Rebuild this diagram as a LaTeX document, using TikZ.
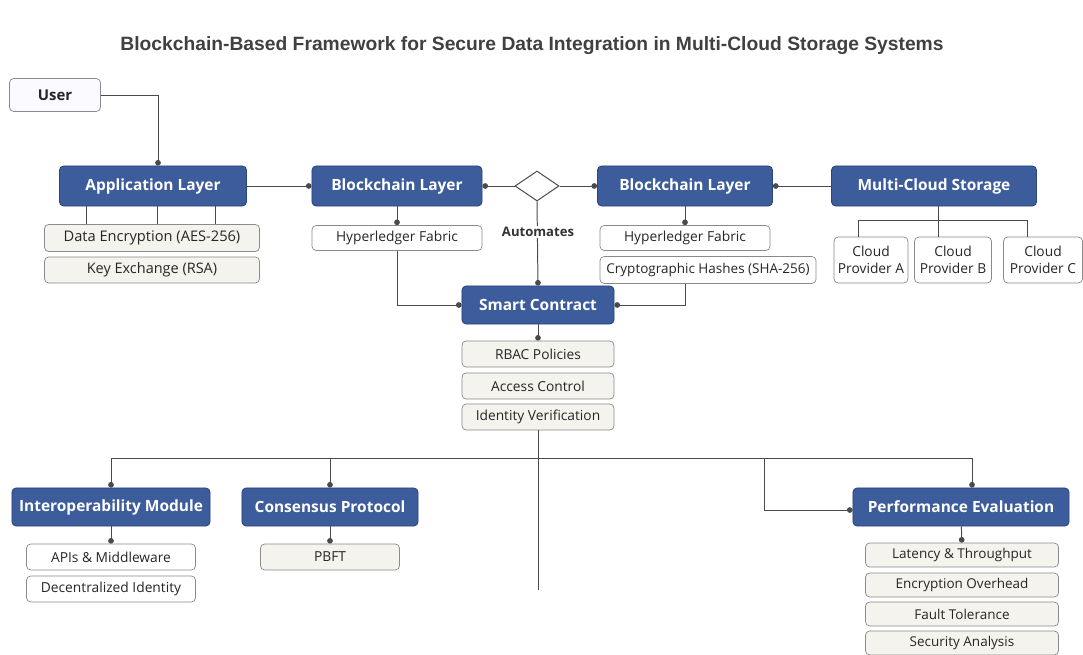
\documentclass[tikz,border=0pt]{standalone}
\usepackage{fontspec}
\setmainfont{Open Sans}
\newfontfamily\headfont{Liberation Sans}
\usetikzlibrary{arrows.meta,shapes.geometric}

\definecolor{layerblue}{HTML}{3D5C9C}
\definecolor{layeredge}{HTML}{2A4578}
\definecolor{itemfill}{HTML}{F4F3EE}
\definecolor{itemedge}{HTML}{8A8A8A}
\definecolor{wirecol}{HTML}{4A4A4A}

\newcommand{\fsz}[1]{\fontsize{#1}{1.2\dimexpr#1pt\relax}\selectfont}

\tikzset{
  layer/.style={draw=layeredge, fill=layerblue, rounded corners=3pt, line width=0.6pt,
    text=white, font=\bfseries\fsz{11}, minimum height=1cm},
  item/.style={draw=itemedge, fill=itemfill, rounded corners=3pt, line width=0.5pt,
    text=black!85, font=\fsz{9.8}, minimum height=0.65cm, inner sep=2pt},
  wire/.style={draw=wirecol, line width=0.7pt},
  dot/.style={wire, -{Circle[length=4pt]}},
}

\begin{document}
\begin{tikzpicture}[x=0.025cm, y=-0.025cm]
    \fill[white] (0,0) rectangle (1083,655); % page background
    \useasboundingbox (0,0) rectangle (1083,655);

    \node[font=\headfont\bfseries\fsz{13.7}, text=black!75] (title) at (532,46)
        {Blockchain-Based Framework for Secure Data Integration in Multi-Cloud Storage Systems};

    % top row of layers
    \node[item, fill=blue!2, minimum width=2.275cm, minimum height=0.825cm, font=\bfseries\fsz{10.6}] (user) at (55,95) {User};
    \node[layer, minimum width=4.675cm] (app) at (153,186) {Application Layer};
    \node[item, minimum width=5.375cm, minimum height=0.675cm, font=\fsz{10.4}] (aes) at (152,238) {Data Encryption (AES-256)};
    \node[item, minimum width=5.375cm, font=\fsz{10.3}] (rsa) at (152,270) {Key Exchange (RSA)};

    \node[layer, minimum width=4.25cm] (bc1) at (397,186) {Blockchain Layer};
    \node[item, fill=white, minimum width=4.25cm, minimum height=0.625cm] (hf1) at (397,238) {Hyperledger Fabric};

    \node[diamond, draw=wirecol, fill=white, line width=0.7pt, inner sep=0pt,
          minimum width=1.1cm, minimum height=0.75cm] (gate) at (537,186) {};

    \node[layer, minimum width=4.375cm] (bc2) at (685,186) {Blockchain Layer};
    \node[item, fill=white, minimum width=4.25cm, minimum height=0.625cm] (hf2) at (685,238) {Hyperledger Fabric};
    \node[item, fill=white, minimum width=5.4cm, minimum height=0.675cm, font=\fsz{9.6}] (sha) at (708,270) {Cryptographic Hashes (SHA-256)};

    \node[layer, minimum width=5.125cm] (mcs) at (934,186) {Multi-Cloud Storage};
    \node[item, fill=white, align=center, inner sep=1pt, minimum width=1.85cm, minimum height=1.15cm] (cpa) at (871,260) {Cloud\\Provider A};
    \node[item, fill=white, align=center, inner sep=1pt, minimum width=1.925cm, minimum height=1.15cm] (cpb) at (953,260) {Cloud\\Provider B};
    \node[item, fill=white, align=center, inner sep=1pt, minimum width=1.975cm, minimum height=1.15cm] (cpc) at (1043,260) {Cloud\\Provider C};

    % smart contract and its policies
    \node[layer, minimum width=3.8cm, minimum height=0.95cm] (sc) at (538,305) {Smart Contract};
    \node[item, minimum width=3.8cm] (rbac) at (538,354) {RBAC Policies};
    \node[item, minimum width=3.8cm] (acc) at (538,386) {Access Control};
    \node[item, minimum width=3.8cm] (idv) at (538,417) {Identity Verification};

    % bottom row
    \node[layer, minimum width=4.95cm, minimum height=0.95cm] (interop) at (111,507) {Interoperability Module};
    \node[item, fill=white, minimum width=4.225cm] (apis) at (111,557) {APIs \& Middleware};
    \node[item, fill=white, minimum width=4.225cm] (did) at (111,589) {Decentralized Identity};

    \node[layer, minimum width=4.4cm, minimum height=0.95cm] (cons) at (330,507) {Consensus Protocol};
    \node[item, minimum width=3.475cm] (pbft) at (330,557) {PBFT};

    \node[layer, minimum width=5.4cm, minimum height=0.95cm] (perf) at (961,507) {Performance Evaluation};
    \node[item, minimum width=4.825cm, minimum height=0.6cm, font=\fsz{9.6}] (lat) at (962,555) {Latency \& Throughput};
    \node[item, minimum width=4.825cm, minimum height=0.6cm, font=\fsz{9.6}] (enc) at (962,585) {Encryption Overhead};
    \node[item, minimum width=4.825cm, minimum height=0.6cm, font=\fsz{9.6}] (ft) at (962,614) {Fault Tolerance};
    \node[item, minimum width=4.825cm, minimum height=0.6cm, font=\fsz{9.6}] (sec) at (962,643) {Security Analysis};

    % connectors
    \draw[dot] (user.east) -| ([xshift=0.125cm]app.north);
    \foreach \s in {-1.65,0.1,1.55}
        \draw[wire] ([xshift=\s cm]app.south) -- ([xshift=\s cm]app.south |- aes.north);
    \draw[dot] (app) -- (bc1);
    \draw[dot] (bc1) -- (hf1);
    \draw[dot] (gate.west) -- (bc1.east);
    \draw[dot] (gate.east) -- (bc2.west);
    \draw[dot] (gate.south) -- (sc.north);
    \node[fill=white, inner sep=1pt, font=\bfseries\fsz{9.3}, text=black!80] (auto) at (538,232) {Automates};
    \draw[dot] (hf1.south) |- (sc.west);
    \draw[dot] (mcs.west) -- (bc2.east);
    \draw[dot] (bc2) -- (hf2);
    \draw[dot] (sha.south -| hf2) |- (sc.east);
    \draw[wire] ([xshift=0.1cm]mcs.south) -- ++(0,14) coordinate (split);
    \draw[wire] (split) -| ([xshift=-0.325cm]cpa.north);
    \draw[wire] (split) -- (split |- cpb.north);
    \draw[wire] (split) -| ([xshift=-0.4cm]cpc.north);

    \draw[dot] (sc) -- (rbac);
    \coordinate (bus) at (538,458);
    \coordinate (fork) at (764,458);
    \coordinate (tail) at (538,590);
    \draw[wire] (idv.south) -- (tail);
    \draw[dot] (bus) -| (interop.north);
    \draw[dot] (bus) -| (cons.north);
    \draw[dot] (bus) -| ([xshift=0.275cm]perf.north);
    \draw[dot] (fork) |- ([yshift=-0.075cm]perf.west);
    \draw[dot] (interop) -- (apis);
    \draw[dot] (cons) -- (pbft);
    \draw[dot] (perf) -- (lat);
\end{tikzpicture}
\end{document}
